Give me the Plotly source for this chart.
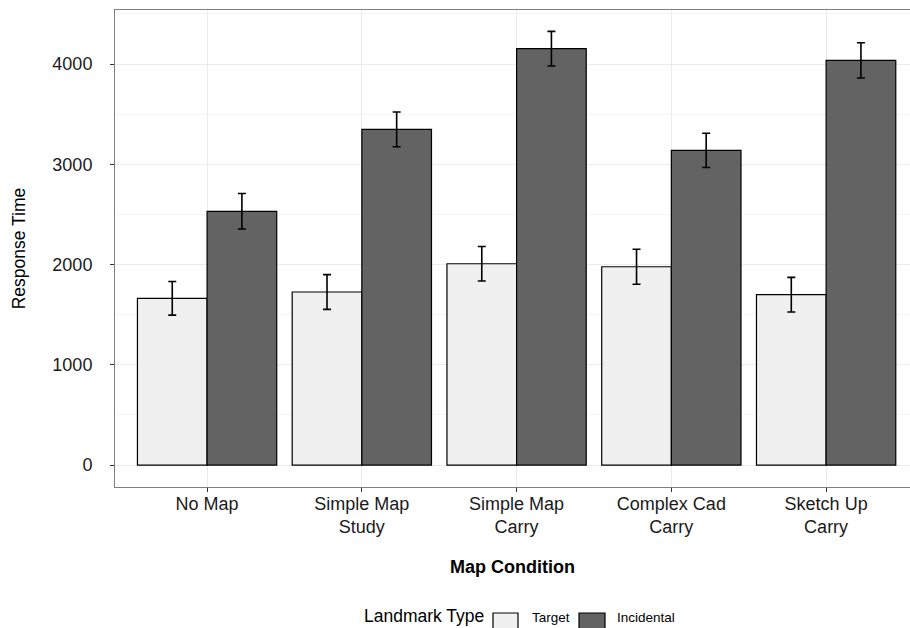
import plotly.graph_objects as go

categories = ["No Map", "Simple Map<br>Study", "Simple Map<br>Carry", "Complex Cad<br>Carry", "Sketch Up<br>Carry"]
series_names = ["Target", "Incidental"]
target_vals = [1663, 1726, 2008, 1978, 1699]
target_err = [168, 173, 172, 175, 173]
incid_vals = [2531, 3348, 4153, 3139, 4037]
incid_err = [177, 173, 173, 171, 176]
y_ticks = [0, 1000, 2000, 3000, 4000]

fill_colors = ["#f0f0f0", "#636363"]
FONT = "Liberation Sans, Arial, sans-serif"

x_idx = list(range(len(categories)))

fig = go.Figure()
for name, vals, errs, col in [
    (series_names[0], target_vals, target_err, fill_colors[0]),
    (series_names[1], incid_vals, incid_err, fill_colors[1]),
]:
    fig.add_trace(go.Bar(
        x=x_idx, y=vals, name=name,
        marker=dict(color=col, line=dict(color="#000000", width=1.2)),
        error_y=dict(type="data", array=errs, visible=True, color="#000000",
                     thickness=1.6, width=4),
        showlegend=False,
    ))

W, H = 910, 628
ml, mr, mt, mb = 115, 0, 10, 141
pw = W - ml - mr
ph = H - mt - mb

def px(x):
    return (x - ml) / pw

def py(y):
    return (H - mb - y) / ph

fig.update_layout(
    width=W, height=H,
    margin=dict(l=ml, r=mr, t=mt, b=mb, pad=0),
    paper_bgcolor="white", plot_bgcolor="white",
    barmode="group", bargap=0.1, bargroupgap=0,
    font=dict(family=FONT, color="#1a1a1a"),
    xaxis=dict(
        range=[-0.595, 4.542],
        tickmode="array", tickvals=x_idx, ticktext=categories,
        tickfont=dict(size=18, color="#1a1a1a"),
        ticks="outside", ticklen=4, tickcolor="#333333", tickwidth=1,
        ticklabelstandoff=-4,
        showgrid=True, gridcolor="#ebebeb", gridwidth=1,
        showline=True, linecolor="#7f7f7f", linewidth=1, mirror=True,
        zeroline=False,
        title=dict(text="<b>Map Condition</b>", font=dict(size=18, color="#000000"), standoff=24),
    ),
    yaxis=dict(
        range=[-219, 4539],
        tickmode="array", tickvals=y_ticks, ticktext=[str(v) for v in y_ticks],
        tickfont=dict(size=18, color="#1a1a1a"),
        ticks="outside", ticklen=4, tickcolor="#333333", tickwidth=1,
        ticklabelstandoff=14,
        showgrid=True, gridcolor="#ebebeb", gridwidth=1,
        minor=dict(tickvals=[500, 1500, 2500, 3500, 4500], showgrid=True,
                   gridcolor="#f5f5f5", gridwidth=1, ticks=""),
        showline=True, linecolor="#7f7f7f", linewidth=1, mirror=False,
        zeroline=False,
        title=dict(text="Response Time", font=dict(size=17.5, color="#000000"), standoff=22),
    ),
)

# Legend drawn below the plot
shapes = []
annotations = []
annotations.append(dict(xref="paper", yref="paper", x=px(362), y=py(616), xanchor="left", yanchor="middle",
                        text="Landmark Type", showarrow=False, font=dict(size=17.5, color="#000000")))
box_specs = [(493, 518, fill_colors[0], 530, series_names[0]), (579, 605, fill_colors[1], 615, series_names[1])]
for x0, x1, col, tx, label in box_specs:
    shapes.append(dict(type="rect", xref="paper", yref="paper", x0=px(x0), x1=px(x1), y0=py(613), y1=py(638),
                       fillcolor=col, line=dict(color="#000000", width=1.2), layer="above"))
    annotations.append(dict(xref="paper", yref="paper", x=px(tx), y=py(617), xanchor="left", yanchor="middle",
                            text=label, showarrow=False, font=dict(size=13.5, color="#000000")))
fig.update_layout(shapes=shapes, annotations=annotations)

fig.write_html("out.html")
